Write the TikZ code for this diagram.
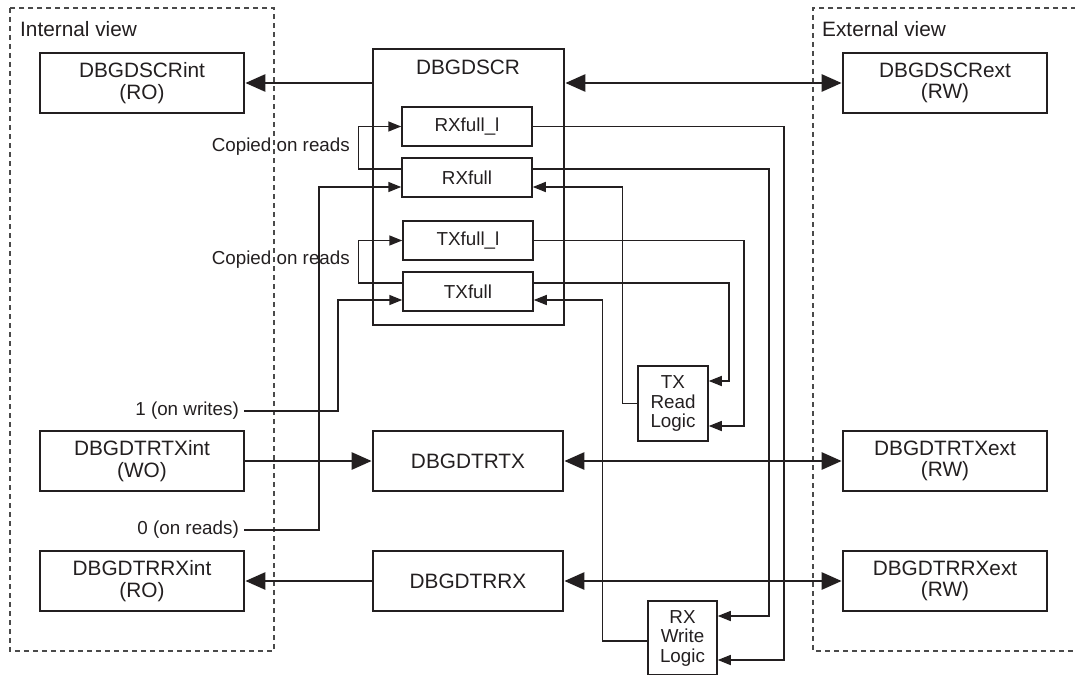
\documentclass[tikz,border=0pt]{standalone}
\usepackage{fontspec}
\setmainfont{Liberation Sans}
\usetikzlibrary{arrows.meta,calc}
\definecolor{ink}{HTML}{231F20}
\definecolor{dashgray}{HTML}{4A4A4A}
\begin{document}
\begin{tikzpicture}[x=1pt,y=-1pt,
  bigfont/.style={font=\fontsize{20.8}{21.5}\selectfont},
  smallfont/.style={font=\fontsize{18.8}{19.5}\selectfont},
  regbox/.style={draw=ink,line width=2.7pt,text=ink,bigfont,align=center,inner sep=0pt,minimum width=204pt,minimum height=60pt},
  midbox/.style={regbox,minimum width=190pt},
  bitbox/.style={draw=ink,line width=1.5pt,text=ink,smallfont,inner sep=0pt,minimum width=130pt,minimum height=39pt},
  logicbox/.style={draw=ink,line width=1.5pt,text=ink,smallfont,align=center,inner sep=0pt},
  plain/.style={text=ink,smallfont,inner sep=0pt},
  viewbox/.style={draw=dashgray,line width=1.2pt,dash pattern=on 5pt off 4pt},
  thickarrow/.style={draw=ink,line width=2.7pt,-{Triangle[length=20pt,width=17pt]}},
  thickboth/.style={draw=ink,line width=2.7pt,{Triangle[length=20pt,width=17pt]}-{Triangle[length=20pt,width=17pt]}},
  thinline/.style={draw=ink,line width=1.5pt},
  thinarrow/.style={thinline,-{Triangle[length=13pt,width=10pt]}}
]
\useasboundingbox (0,0) rectangle (1075,674);
\clip (0,0) rectangle (1075,674);

% view frames
\draw[viewbox] (10,8) rectangle (274,651);
\draw[viewbox] (1085,8) -- (813,8) -- (813,651) -- (1085,651);
\node[plain,bigfont,anchor=base west] (intv) at (20,37) {Internal view};
\node[plain,bigfont,anchor=base west] (extv) at (822,37) {External view};

% register boxes
\node[regbox] (scrint) at (142,83) {DBGDSCRint\\(RO)};
\node[regbox] (txint) at (142,461) {DBGDTRTXint\\(WO)};
\node[regbox] (rxint) at (142,581) {DBGDTRRXint\\(RO)};
\node[regbox] (scrext) at (945,83) {DBGDSCRext\\(RW)};
\node[regbox] (txext) at (945,461) {DBGDTRTXext\\(RW)};
\node[regbox] (rxext) at (945,581) {DBGDTRRXext\\(RW)};
\node[midbox] (dtrtx) at (468,461) {DBGDTRTX};
\node[midbox] (dtrrx) at (468,581) {DBGDTRRX};
\node[regbox,minimum width=191pt,minimum height=276pt] (scr) at (468.5,187) {};
\node[plain,bigfont] (scrlbl) at (468,67) {DBGDSCR};

% bit boxes
\node[bitbox] (rxfl) at (467,126.5) {RXfull\_l};
\node[bitbox] (rxf) at (467,177.5) {RXfull};
\node[bitbox] (txfl) at (468,240.5) {TXfull\_l};
\node[bitbox] (txf) at (468,291.5) {TXfull};

% logic boxes
\node[logicbox,minimum width=70pt,minimum height=75pt] (txr) at (673,403.5) {TX\\Read\\Logic};
\node[logicbox,minimum width=69pt,minimum height=74pt] (rxw) at (682.5,638) {RX\\Write\\Logic};

% labels
\node[plain,anchor=east] (cor1) at (350,147) {Copied on reads};
\node[plain,anchor=east] (cor2) at (350,260) {Copied on reads};
\node[plain,anchor=east,inner xsep=5pt] (w1) at (244,411) {1 (on writes)};
\node[plain,anchor=east,inner xsep=5pt] (r0) at (244,530) {0 (on reads)};

% thick connectors
\draw[thickarrow] (scr.west |- scrint.east) -- (scrint.east);
\draw[thickboth] (scr.east |- scrext.west) -- (scrext.west);
\draw[thickarrow] (txint.east) -- (dtrtx.west);
\draw[thickboth] (dtrtx.east) -- (txext.west);
\draw[thickarrow] (dtrrx.west) -- (rxint.east);
\draw[thickboth] (dtrrx.east) -- (rxext.west);

% copied on reads loops
\draw[thinarrow] ([yshift=8.5pt]rxf.west) -- ++(-43,0) |- (rxfl.west);
\draw[thinarrow] ([yshift=8.5pt]txf.west) -- ++(-44,0) |- (txfl.west);

% write / read sources
\draw[thinarrow] (w1.east) -- ++(94,0) |- ([yshift=-8.5pt]txf.west);
\draw[thinarrow] (r0.east) -- ++(75,0) |- ([yshift=-9.5pt]rxf.west);

% right-hand logic
\draw[thinarrow] (rxfl.east) -- ++(251,0) |- ([yshift=-22pt]rxw.east);
\draw[thinarrow] ([yshift=8.5pt]rxf.east) -- ++(236,0) |- ([yshift=22pt]rxw.east);
\draw[thinarrow] (txr.west) -- ++(-15,0) |- ([yshift=-9.5pt]rxf.east);
\draw[thinarrow] (txfl.east) -- ++(210,0) |- ([yshift=-22.5pt]txr.east);
\draw[thinarrow] ([yshift=8.5pt]txf.east) -- ++(195,0) |- ([yshift=22.5pt]txr.east);
\draw[thinarrow] ([yshift=-3pt]rxw.west) -- ++(-45,0) |- ([yshift=-8.5pt]txf.east);
\end{tikzpicture}
\end{document}
